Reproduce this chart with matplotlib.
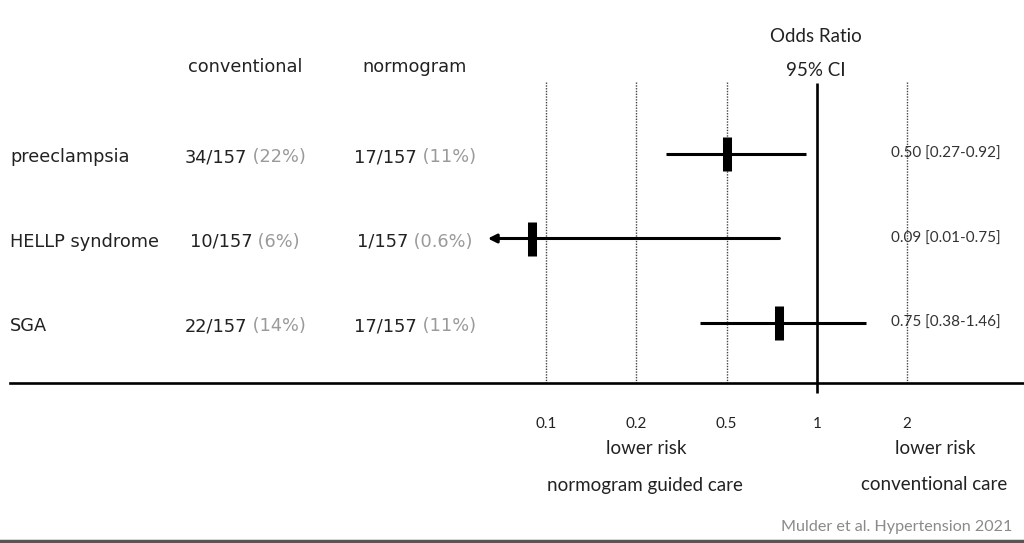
import numpy as np
import matplotlib
matplotlib.use('Agg')
import matplotlib.pyplot as plt
from matplotlib import transforms

outcomes = ['preeclampsia', 'HELLP syndrome', 'SGA']
conv_counts = ['34/157', '10/157', '22/157']
conv_pct = ['(22%)', '(6%)', '(14%)']
norm_counts = ['17/157', '1/157', '17/157']
norm_pct = ['(11%)', '(0.6%)', '(11%)']
odds_ratio = [0.50, 0.09, 0.75]
ci_low = [0.27, 0.01, 0.38]
ci_high = [0.92, 0.75, 1.46]
tick_values = [0.1, 0.2, 0.5, 1, 2]
tick_labels = ['0.1', '0.2', '0.5', '1', '2']

W, H = 1024, 543
GREY = '#9a9a9a'
TXT = '#222222'

# evenly spaced ticks, log interpolation in between
lt = np.log10(tick_values)
idx = np.arange(len(lt), dtype=float)


def fwd(x):
    lx = np.log10(np.clip(np.asarray(x, dtype=float), 1e-9, None))
    u = np.interp(lx, lt, idx)
    u = np.where(lx < lt[0], (lx - lt[0]) / (lt[1] - lt[0]), u)
    u = np.where(lx > lt[-1], idx[-1] + (lx - lt[-1]) / (lt[-1] - lt[-2]), u)
    return u


def inv(u):
    u = np.asarray(u, dtype=float)
    lx = np.interp(u, idx, lt)
    lx = np.where(u < 0, lt[0] + u * (lt[1] - lt[0]), lx)
    lx = np.where(u > idx[-1], lt[-1] + (u - idx[-1]) * (lt[-1] - lt[-2]), lx)
    return 10 ** lx


# pixel helpers for layout
x0_px, step_px = 546.0, 90.3
row0_px, row_step = 154.0, 84.5


def prow(py):
    return (py - row0_px) / row_step


def fx(px):
    return px / W


def fy(py):
    return 1 - py / H


fig = plt.figure(figsize=(W / 100, H / 100), dpi=100)
ax = fig.add_axes([0, 0, 1, 1])
ax.set_xscale('function', functions=(fwd, inv))
ax.set_xlim(inv(-x0_px / step_px), inv((W - x0_px) / step_px))
ax.set_ylim(prow(H), prow(0))
ax.axis('off')

# reference lines
dotted = [v for v in tick_values if v != 1]
ax.vlines(dotted, prow(82), prow(383), colors='#444444',
          linestyles=(0, (1, 1)), lw=1.0, zorder=1)
ax.vlines(1, prow(83), prow(393), colors='black', lw=1.9, zorder=2)
ax.axhline(prow(383), xmin=10 / W, color='black', lw=1.9, zorder=2)
ax.axhline(prow(541), color='#555555', lw=2.5)

# CIs and point estimates
axis_min = 0.064
for i in range(len(outcomes)):
    if ci_low[i] < axis_min:
        ax.annotate('', xy=(axis_min, i), xytext=(ci_high[i], i),
                    arrowprops=dict(arrowstyle='-|>,head_length=0.5,head_width=0.25',
                                    lw=2.2, color='black', shrinkA=0, shrinkB=0),
                    zorder=3)
    else:
        ax.plot([ci_low[i], ci_high[i]], [i, i], color='black', lw=2.2,
                solid_capstyle='butt', zorder=3)
    ax.plot(odds_ratio[i], i, marker='|', ms=24.5, mew=6.5, color='black', zorder=4)
    ax.text(fx(891), i, f'{odds_ratio[i]:.2f} [{ci_low[i]:.2f}-{ci_high[i]:.2f}]',
            transform=transforms.blended_transform_factory(fig.transFigure, ax.transData),
            ha='left', va='center', fontsize=11, family='Lato', color='#333333')

# tick labels under the axis
tick_tr = transforms.blended_transform_factory(ax.transData, fig.transFigure)
for v, lab in zip(tick_values, tick_labels):
    ax.text(v, fy(424), lab, transform=tick_tr, ha='center', va='center',
            fontsize=11, family='Lato', color=TXT)

# table on the left
row_tr = transforms.blended_transform_factory(fig.transFigure, ax.transData)
renderer = fig.canvas.get_renderer()
tab_font = dict(fontsize=12.8, family='DejaVu Sans')


def two_tone(xc, y, main, extra):
    full = ax.text(xc, y, main + ' ' + extra, transform=row_tr, ha='center',
                   va='center', alpha=0, **tab_font)
    bb = full.get_window_extent(renderer)
    left = fig.transFigure.inverted().transform((bb.x0, bb.y0))[0]
    full.remove()
    t = ax.text(left, y, main, transform=row_tr, ha='left', va='center',
                color=TXT, **tab_font)
    ax.annotate(' ' + extra, xy=(1, 0), xycoords=t, ha='left', va='bottom',
                color=GREY, **tab_font)


text_off = prow(157) - prow(154)
for i, name in enumerate(outcomes):
    y = i + text_off
    ax.text(fx(10), y, name, transform=row_tr, ha='left', va='center',
            color=TXT, **tab_font)
    two_tone(fx(245), y, conv_counts[i], conv_pct[i])
    two_tone(fx(415), y, norm_counts[i], norm_pct[i])

fig.text(fx(245), fy(67), 'conventional', ha='center', va='center', color=TXT, **tab_font)
fig.text(fx(415), fy(67), 'normogram', ha='center', va='center', color=TXT, **tab_font)

# headers and footers in the forest part
lato = dict(family='Lato', color=TXT, fontsize=13.5)
fig.text(fx(816), fy(36), 'Odds Ratio', ha='center', va='center', **lato)
fig.text(fx(816), fy(70), '95% CI', ha='center', va='center', **lato)
fig.text(fx(646), fy(449), 'lower risk', ha='center', va='center', **lato)
fig.text(fx(935), fy(449), 'lower risk', ha='center', va='center', **lato)
fig.text(fx(645), fy(485), 'normogram guided care', ha='center', va='center', **lato)
fig.text(fx(934), fy(485), 'conventional care', ha='center', va='center', **lato)
fig.text(fx(1012), fy(527), 'Mulder et al. Hypertension 2021', ha='right', va='center',
         fontsize=11.6, family='Lato', color='#8a8a8a')

fig.savefig('out.png', dpi=100)
